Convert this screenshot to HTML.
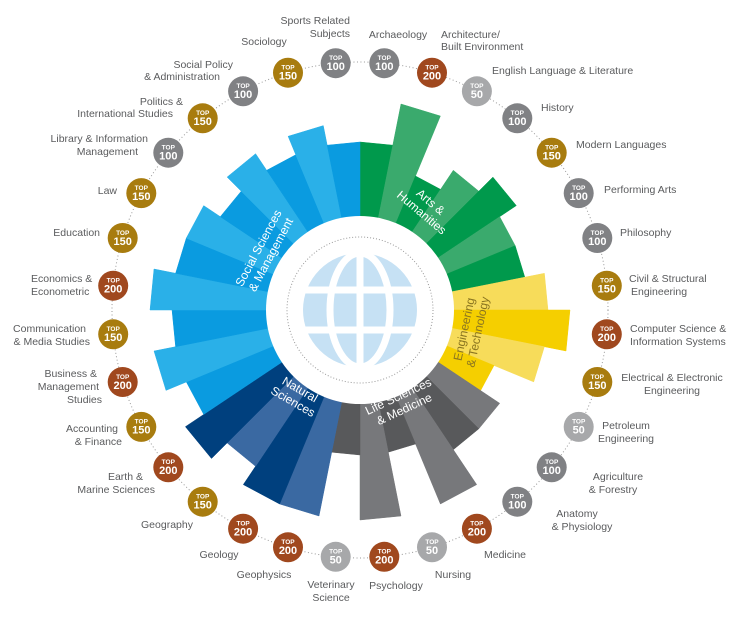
<!DOCTYPE html>
<html><head><meta charset="utf-8"><style>
html,body{margin:0;padding:0;background:#fff;}
svg{display:block}
.l{font-family:"Liberation Sans",sans-serif;font-size:10.5px;fill:#5a5b5d}
.b1{font-family:"Liberation Sans",sans-serif;font-size:6.5px;fill:#fff;font-weight:bold}
.b2{font-family:"Liberation Sans",sans-serif;font-size:11px;fill:#fff;font-weight:bold}
.g{font-family:"Liberation Sans",sans-serif;font-size:12px;fill:#fff}
</style></head><body>
<svg id="s" width="751" height="619" viewBox="0 0 751 619" xmlns="http://www.w3.org/2000/svg">
<g id="wedges"></g>
<circle cx="360" cy="310" r="94" fill="#fff"/>
<circle cx="360" cy="310" r="73" fill="none" stroke="#999" stroke-width="1" stroke-dasharray="1,2"/>
<circle cx="360" cy="310" r="248" fill="none" stroke="#999" stroke-width="1" stroke-dasharray="1,2.5"/>
<!-- globe -->
<circle cx="360" cy="310" r="57" fill="#c6e1f4"/>
<g stroke="#fff" stroke-width="7" fill="none">
<line x1="300" y1="290" x2="420" y2="290"/>
<line x1="300" y1="330" x2="420" y2="330"/>
<line x1="360" y1="250" x2="360" y2="370"/>
<ellipse cx="360" cy="310" rx="30" ry="57"/>
</g>
<g id="badges"></g>
<!-- group labels -->
<text class="g" transform="translate(428,205) rotate(40)" text-anchor="middle"><tspan x="0" y="0">Arts &amp;</tspan><tspan x="0" y="14">Humanities</tspan></text>
<text class="g" transform="translate(262,250) rotate(-62)" text-anchor="middle"><tspan x="0" y="0">Social Sciences</tspan><tspan x="0" y="14">&amp; Management</tspan></text>
<text class="g" style="fill:#8a7520" transform="translate(468,330) rotate(-78)" text-anchor="middle"><tspan x="0" y="0">Engineering</tspan><tspan x="0" y="14">&amp; Technology</tspan></text>
<text class="g" transform="translate(298,393) rotate(30)" text-anchor="middle"><tspan x="0" y="0">Natural</tspan><tspan x="0" y="14">Sciences</tspan></text>
<text class="g" transform="translate(400,400) rotate(-25)" text-anchor="middle"><tspan x="0" y="0">Life Sciences</tspan><tspan x="0" y="14">&amp; Medicine</tspan></text>
<!-- labels -->
<text class="l" text-anchor="end"><tspan x="350" y="24">Sports Related</tspan><tspan x="350" y="37">Subjects</tspan></text>
<text class="l" text-anchor="middle" x="264" y="45">Sociology</text>
<text class="l" text-anchor="middle" x="398" y="38">Archaeology</text>
<text class="l"><tspan x="441" y="38">Architecture/</tspan><tspan x="441" y="50">Built Environment</tspan></text>
<text class="l" x="492" y="74">English Language &amp; Literature</text>
<text class="l" x="541" y="111">History</text>
<text class="l" x="576" y="148">Modern Languages</text>
<text class="l" x="604" y="193">Performing Arts</text>
<text class="l" x="620" y="236">Philosophy</text>
<text class="l"><tspan x="629" y="282">Civil &amp; Structural</tspan><tspan x="631" y="295">Engineering</tspan></text>
<text class="l"><tspan x="630" y="332">Computer Science &amp;</tspan><tspan x="630" y="345">Information Systems</tspan></text>
<text class="l" text-anchor="middle"><tspan x="672" y="381">Electrical &amp; Electronic</tspan><tspan x="672" y="394">Engineering</tspan></text>
<text class="l" text-anchor="middle"><tspan x="626" y="429">Petroleum</tspan><tspan x="626" y="442">Engineering</tspan></text>
<text class="l" text-anchor="middle"><tspan x="618" y="480">Agriculture</tspan><tspan x="613" y="493">&amp; Forestry</tspan></text>
<text class="l" text-anchor="middle"><tspan x="577" y="517">Anatomy</tspan><tspan x="582" y="530">&amp; Physiology</tspan></text>
<text class="l" text-anchor="middle" x="505" y="558">Medicine</text>
<text class="l" text-anchor="middle" x="453" y="578">Nursing</text>
<text class="l" text-anchor="middle" x="396" y="589">Psychology</text>
<text class="l" text-anchor="middle"><tspan x="331" y="588">Veterinary</tspan><tspan x="331" y="601">Science</tspan></text>
<text class="l" text-anchor="middle" x="264" y="578">Geophysics</text>
<text class="l" text-anchor="middle" x="219" y="558">Geology</text>
<text class="l" text-anchor="middle" x="167" y="528">Geography</text>
<text class="l" text-anchor="end"><tspan x="143" y="480">Earth &amp;</tspan><tspan x="155" y="493">Marine Sciences</tspan></text>
<text class="l" text-anchor="end"><tspan x="118" y="432">Accounting</tspan><tspan x="122" y="445">&amp; Finance</tspan></text>
<text class="l" text-anchor="end"><tspan x="97" y="377">Business &amp;</tspan><tspan x="99" y="390">Management</tspan><tspan x="102" y="403">Studies</tspan></text>
<text class="l" text-anchor="end"><tspan x="86" y="332">Communication</tspan><tspan x="90" y="345">&amp; Media Studies</tspan></text>
<text class="l"><tspan x="31" y="282">Economics &amp;</tspan><tspan x="31" y="295">Econometric</tspan></text>
<text class="l" text-anchor="end" x="100" y="236">Education</text>
<text class="l" text-anchor="end" x="117" y="194">Law</text>
<text class="l" text-anchor="end"><tspan x="148" y="142">Library &amp; Information</tspan><tspan x="138" y="155">Management</tspan></text>
<text class="l" text-anchor="end"><tspan x="183" y="105">Politics &amp;</tspan><tspan x="173" y="117">International Studies</tspan></text>
<text class="l" text-anchor="end"><tspan x="233" y="68">Social Policy</tspan><tspan x="220" y="80">&amp; Administration</tspan></text>

<g>
<circle cx="384.3" cy="63.2" r="15" fill="#808184"/><text class="b1" x="384.3" y="60" text-anchor="middle">TOP</text><text class="b2" x="384.3" y="70" text-anchor="middle">100</text>
<circle cx="432" cy="72.7" r="15" fill="#a0481e"/><text class="b1" x="432" y="69.5" text-anchor="middle">TOP</text><text class="b2" x="432" y="79.5" text-anchor="middle">200</text>
<circle cx="476.9" cy="91.3" r="15" fill="#a7a8aa"/><text class="b1" x="476.9" y="88.1" text-anchor="middle">TOP</text><text class="b2" x="476.9" y="98.1" text-anchor="middle">50</text>
<circle cx="517.3" cy="118.3" r="15" fill="#808184"/><text class="b1" x="517.3" y="115.1" text-anchor="middle">TOP</text><text class="b2" x="517.3" y="125.1" text-anchor="middle">100</text>
<circle cx="551.7" cy="152.7" r="15" fill="#a87c0f"/><text class="b1" x="551.7" y="149.5" text-anchor="middle">TOP</text><text class="b2" x="551.7" y="159.5" text-anchor="middle">150</text>
<circle cx="578.7" cy="193.1" r="15" fill="#808184"/><text class="b1" x="578.7" y="189.9" text-anchor="middle">TOP</text><text class="b2" x="578.7" y="199.9" text-anchor="middle">100</text>
<circle cx="597.3" cy="238" r="15" fill="#808184"/><text class="b1" x="597.3" y="234.8" text-anchor="middle">TOP</text><text class="b2" x="597.3" y="244.8" text-anchor="middle">100</text>
<circle cx="606.8" cy="285.7" r="15" fill="#a87c0f"/><text class="b1" x="606.8" y="282.5" text-anchor="middle">TOP</text><text class="b2" x="606.8" y="292.5" text-anchor="middle">150</text>
<circle cx="606.8" cy="334.3" r="15" fill="#a0481e"/><text class="b1" x="606.8" y="331.1" text-anchor="middle">TOP</text><text class="b2" x="606.8" y="341.1" text-anchor="middle">200</text>
<circle cx="597.3" cy="382" r="15" fill="#a87c0f"/><text class="b1" x="597.3" y="378.8" text-anchor="middle">TOP</text><text class="b2" x="597.3" y="388.8" text-anchor="middle">150</text>
<circle cx="578.7" cy="426.9" r="15" fill="#a7a8aa"/><text class="b1" x="578.7" y="423.7" text-anchor="middle">TOP</text><text class="b2" x="578.7" y="433.7" text-anchor="middle">50</text>
<circle cx="551.7" cy="467.3" r="15" fill="#808184"/><text class="b1" x="551.7" y="464.1" text-anchor="middle">TOP</text><text class="b2" x="551.7" y="474.1" text-anchor="middle">100</text>
<circle cx="517.3" cy="501.7" r="15" fill="#808184"/><text class="b1" x="517.3" y="498.5" text-anchor="middle">TOP</text><text class="b2" x="517.3" y="508.5" text-anchor="middle">100</text>
<circle cx="476.9" cy="528.7" r="15" fill="#a0481e"/><text class="b1" x="476.9" y="525.5" text-anchor="middle">TOP</text><text class="b2" x="476.9" y="535.5" text-anchor="middle">200</text>
<circle cx="432" cy="547.3" r="15" fill="#a7a8aa"/><text class="b1" x="432" y="544.1" text-anchor="middle">TOP</text><text class="b2" x="432" y="554.1" text-anchor="middle">50</text>
<circle cx="384.3" cy="556.8" r="15" fill="#a0481e"/><text class="b1" x="384.3" y="553.6" text-anchor="middle">TOP</text><text class="b2" x="384.3" y="563.6" text-anchor="middle">200</text>
<circle cx="335.7" cy="556.8" r="15" fill="#a7a8aa"/><text class="b1" x="335.7" y="553.6" text-anchor="middle">TOP</text><text class="b2" x="335.7" y="563.6" text-anchor="middle">50</text>
<circle cx="288" cy="547.3" r="15" fill="#a0481e"/><text class="b1" x="288" y="544.1" text-anchor="middle">TOP</text><text class="b2" x="288" y="554.1" text-anchor="middle">200</text>
<circle cx="243.1" cy="528.7" r="15" fill="#a0481e"/><text class="b1" x="243.1" y="525.5" text-anchor="middle">TOP</text><text class="b2" x="243.1" y="535.5" text-anchor="middle">200</text>
<circle cx="202.7" cy="501.7" r="15" fill="#a87c0f"/><text class="b1" x="202.7" y="498.5" text-anchor="middle">TOP</text><text class="b2" x="202.7" y="508.5" text-anchor="middle">150</text>
<circle cx="168.3" cy="467.3" r="15" fill="#a0481e"/><text class="b1" x="168.3" y="464.1" text-anchor="middle">TOP</text><text class="b2" x="168.3" y="474.1" text-anchor="middle">200</text>
<circle cx="141.3" cy="426.9" r="15" fill="#a87c0f"/><text class="b1" x="141.3" y="423.7" text-anchor="middle">TOP</text><text class="b2" x="141.3" y="433.7" text-anchor="middle">150</text>
<circle cx="122.7" cy="382" r="15" fill="#a0481e"/><text class="b1" x="122.7" y="378.8" text-anchor="middle">TOP</text><text class="b2" x="122.7" y="388.8" text-anchor="middle">200</text>
<circle cx="113.2" cy="334.3" r="15" fill="#a87c0f"/><text class="b1" x="113.2" y="331.1" text-anchor="middle">TOP</text><text class="b2" x="113.2" y="341.1" text-anchor="middle">150</text>
<circle cx="113.2" cy="285.7" r="15" fill="#a0481e"/><text class="b1" x="113.2" y="282.5" text-anchor="middle">TOP</text><text class="b2" x="113.2" y="292.5" text-anchor="middle">200</text>
<circle cx="122.7" cy="238" r="15" fill="#a87c0f"/><text class="b1" x="122.7" y="234.8" text-anchor="middle">TOP</text><text class="b2" x="122.7" y="244.8" text-anchor="middle">150</text>
<circle cx="141.3" cy="193.1" r="15" fill="#a87c0f"/><text class="b1" x="141.3" y="189.9" text-anchor="middle">TOP</text><text class="b2" x="141.3" y="199.9" text-anchor="middle">150</text>
<circle cx="168.3" cy="152.7" r="15" fill="#808184"/><text class="b1" x="168.3" y="149.5" text-anchor="middle">TOP</text><text class="b2" x="168.3" y="159.5" text-anchor="middle">100</text>
<circle cx="202.7" cy="118.3" r="15" fill="#a87c0f"/><text class="b1" x="202.7" y="115.1" text-anchor="middle">TOP</text><text class="b2" x="202.7" y="125.1" text-anchor="middle">150</text>
<circle cx="243.1" cy="91.3" r="15" fill="#808184"/><text class="b1" x="243.1" y="88.1" text-anchor="middle">TOP</text><text class="b2" x="243.1" y="98.1" text-anchor="middle">100</text>
<circle cx="288" cy="72.7" r="15" fill="#a87c0f"/><text class="b1" x="288" y="69.5" text-anchor="middle">TOP</text><text class="b2" x="288" y="79.5" text-anchor="middle">150</text>
<circle cx="335.7" cy="63.2" r="15" fill="#808184"/><text class="b1" x="335.7" y="60" text-anchor="middle">TOP</text><text class="b2" x="335.7" y="70" text-anchor="middle">100</text>
</g>
</svg>
<script>
(function(){
var ranks=[100,200,50,100,150,100,100,150,200,150,50,100,100,200,50,200,50,200,200,150,200,150,200,150,200,150,150,100,150,100,150,100];
var cols=[];
var G=['#00994c','#3aaa6d'],Y=['#f7dc5a','#f5cf00'],K=['#77787b','#58595b'],N=['#3a69a2','#00407e'],B=['#2ab0e8','#0a9be0'];
for(var i=0;i<32;i++){var c;
 if(i<7)c=G[i%2];else if(i<11)c=Y[(i-7)%2];else if(i<17)c=K[(i-11)%2];else if(i<21)c=N[(i-17)%2];else c=B[(i-21+1)%2];
 cols.push(c);}
var L={50:145,100:168,150:188,200:210};
var s='';
for(var i=0;i<32;i++){var a1=i*11.25*Math.PI/180,a2=(i+1)*11.25*Math.PI/180,R=L[ranks[i]];
 var x1=360+R*Math.sin(a1),y1=310-R*Math.cos(a1),x2=360+R*Math.sin(a2),y2=310-R*Math.cos(a2);
 s+='<polygon points="360,310 '+x1.toFixed(1)+','+y1.toFixed(1)+' '+x2.toFixed(1)+','+y2.toFixed(1)+'" fill="'+cols[i]+'" stroke="'+cols[i]+'" stroke-width="0.5"/>';}
document.getElementById('wedges').innerHTML=s;
})();
</script>
</body></html>
